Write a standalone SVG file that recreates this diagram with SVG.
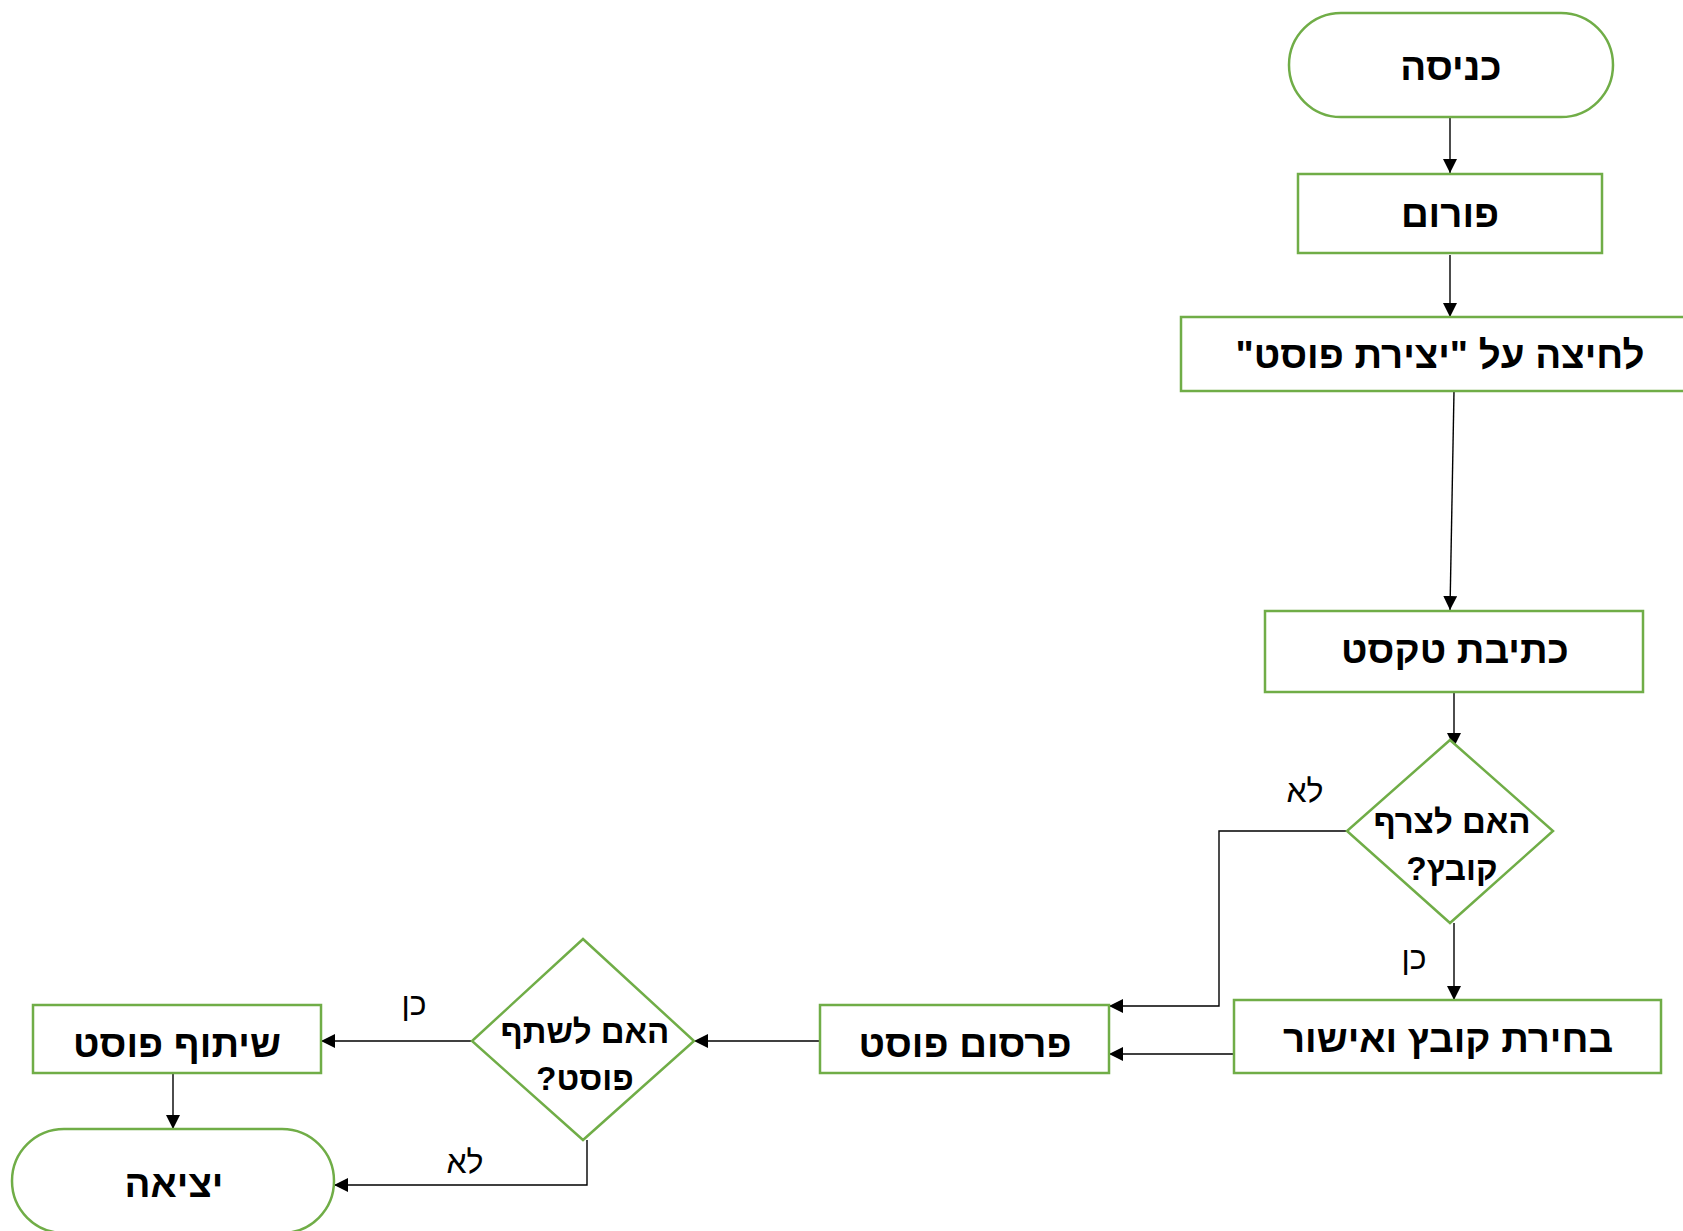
<svg xmlns="http://www.w3.org/2000/svg" width="1683" height="1231" viewBox="0 0 1683 1231">
<style>
.shape{fill:#fff;stroke:#70AD47;stroke-width:2.5}
.t{font-family:"Liberation Sans","DejaVu Sans",sans-serif;font-weight:bold;font-size:38.5px;fill:#000;text-anchor:middle;direction:rtl}
.q{font-family:"Liberation Sans","DejaVu Sans",sans-serif;font-weight:bold;font-size:33px;fill:#000;text-anchor:middle;direction:rtl}
.lbl{font-family:"Liberation Sans","DejaVu Sans",sans-serif;font-size:32px;fill:#000;text-anchor:middle;direction:rtl}
.c{fill:none;stroke:#000;stroke-width:1.4}
</style>
<defs>
<marker id="ah" viewBox="0 0 10 10" refX="10" refY="5" markerWidth="14" markerHeight="14" markerUnits="userSpaceOnUse" orient="auto">
<path d="M0,0 L10,5 L0,10 z" fill="#000"/>
</marker>
</defs>
<rect width="1683" height="1231" fill="#fff"/>
<g id="connectors">
<path class="c" d="M1450,117 L1450,173" marker-end="url(#ah)"/>
<path class="c" d="M1450,255 L1450,317" marker-end="url(#ah)"/>
<path class="c" d="M1454,391 L1450,610" marker-end="url(#ah)"/>
<path class="c" d="M1454,692 L1454,747" marker-end="url(#ah)"/>
<path class="c" d="M1347,831 L1219,831 L1219,1006 L1109,1006" marker-end="url(#ah)"/>
<path class="c" d="M1454,923 L1454,1000" marker-end="url(#ah)"/>
<path class="c" d="M1234,1054 L1109,1054" marker-end="url(#ah)"/>
<path class="c" d="M820,1041 L694,1041" marker-end="url(#ah)"/>
<path class="c" d="M472,1041 L321,1041" marker-end="url(#ah)"/>
<path class="c" d="M173,1073 L173,1129" marker-end="url(#ah)"/>
<path class="c" d="M587,1140 L587,1185 L334,1185" marker-end="url(#ah)"/>
<text class="lbl" x="1305" y="802">לא</text>
<text class="lbl" x="1414" y="969">כן</text>
<text class="lbl" x="414" y="1015">כן</text>
<text class="lbl" x="465" y="1173">לא</text>
</g>
<g id="start">
<rect class="shape" x="1289" y="13" width="324" height="104" rx="52" ry="52"/>
<text class="t" x="1451" y="80">כניסה</text>
</g>
<g id="forum">
<rect class="shape" x="1298" y="174" width="304" height="79"/>
<text class="t" x="1450" y="227">פורום</text>
</g>
<g id="click">
<rect class="shape" x="1181" y="317" width="520" height="74"/>
<text class="t" x="1440" y="368">לחיצה על "יצירת פוסט"</text>
</g>
<g id="write">
<rect class="shape" x="1265" y="611" width="378" height="81"/>
<text class="t" x="1455" y="663">כתיבת טקסט</text>
</g>
<g id="attach">
<polygon class="shape" points="1450,740 1553,831 1450,923 1347,831"/>
<text class="q" x="1452" y="833">האם לצרף</text>
<text class="q" x="1452" y="880">קובץ?</text>
</g>
<g id="select">
<rect class="shape" x="1234" y="1000" width="427" height="73"/>
<text class="t" x="1448" y="1052">בחירת קובץ ואישור</text>
</g>
<g id="publish">
<rect class="shape" x="820" y="1005" width="289" height="68"/>
<text class="t" x="965" y="1057">פרסום פוסט</text>
</g>
<g id="share-q">
<polygon class="shape" points="583,939 694,1041 583,1140 472,1041"/>
<text class="q" x="585" y="1043">האם לשתף</text>
<text class="q" x="585" y="1090">פוסט?</text>
</g>
<g id="share">
<rect class="shape" x="33" y="1005" width="288" height="68"/>
<text class="t" x="177" y="1057">שיתוף פוסט</text>
</g>
<g id="exit">
<rect class="shape" x="12" y="1129" width="322" height="104" rx="52" ry="52"/>
<text class="t" x="174" y="1197">יציאה</text>
</g>
</svg>
